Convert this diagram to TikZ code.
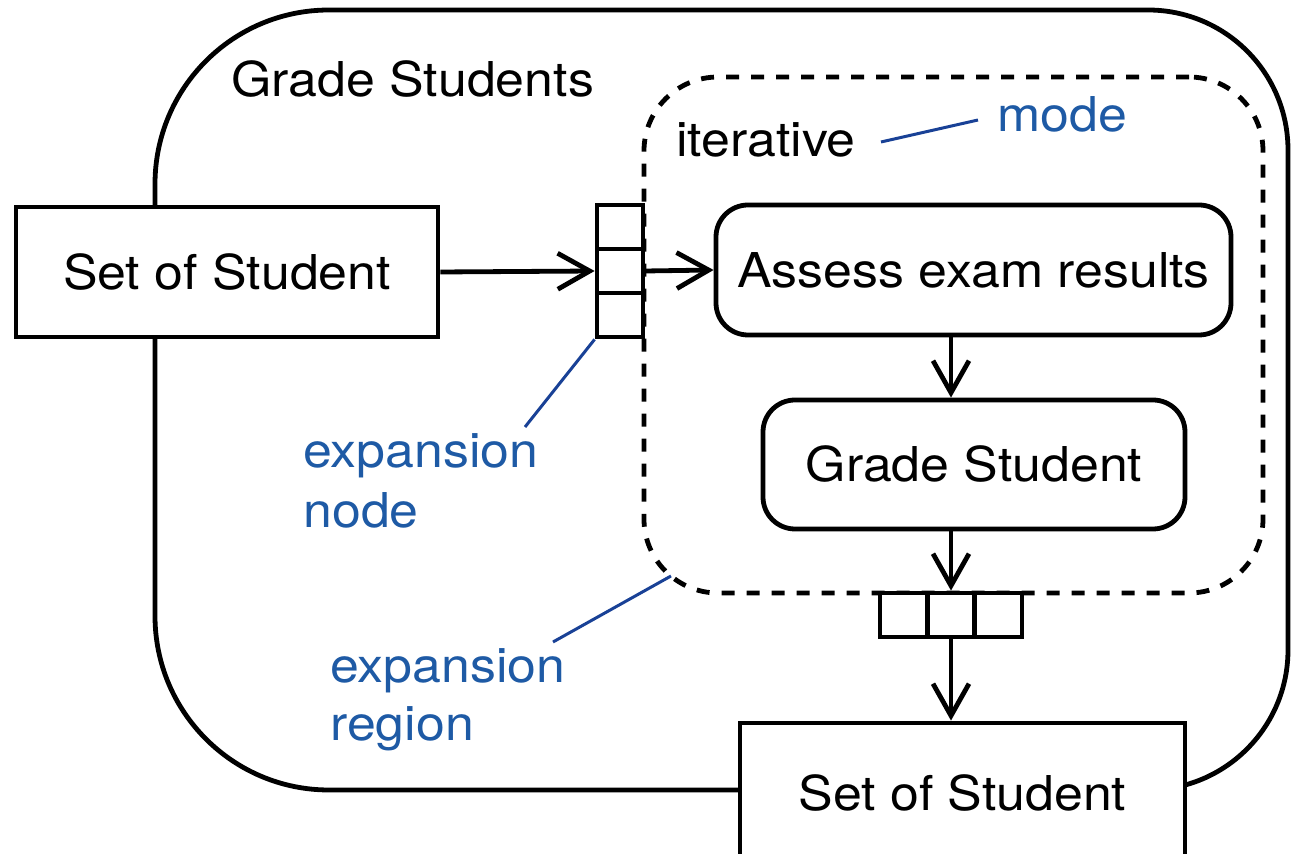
\documentclass[tikz,border=0pt]{standalone}
\usepackage{fontspec}
\setmainfont{TeX Gyre Heros}[FakeStretch=1.08]
\usetikzlibrary{arrows.meta}
\definecolor{notecol}{RGB}{30,90,165}
\definecolor{notelin}{RGB}{25,65,150}
\begin{document}
\begin{tikzpicture}[x=0.5pt,y=-0.5pt,
  every node/.style={font=\fontsize{24}{28}\selectfont, inner sep=0pt},
  objbox/.style={draw, line width=2.4pt, fill=white, rectangle},
  actbox/.style={draw, line width=2.4pt, fill=white, rounded corners=16pt},
  pincell/.style={draw, line width=2.4pt, fill=white},
  flow/.style={line width=2.4pt, -{Straight Barb[length=16pt,width=18pt,line width=2.4pt]}},
  note/.style={text=notecol},
  noteline/.style={draw=notelin, line width=1.5pt},
  regionline/.style={line width=2.4pt, dash pattern=on 6.5pt off 6pt},
]
\useasboundingbox (0,0) rectangle (1292,854);
\clip (0,0) rectangle (1292,854);

% activity frame
\draw[line width=2.4pt] (700,10) [rounded corners=70pt] -- (1288,10) -- (1288,790) -- (700,790)
  [rounded corners=87pt] -- (155,790) -- (155,10) -- (700,10);

% expansion region
\node[draw, regionline, rounded corners=37pt, minimum width=309.5pt, minimum height=258pt]
  (region) at (953.5,335) {};

% object nodes
\node[objbox, minimum width=211pt, minimum height=65pt] (in) at (227,272) {Set of Student};
\node[objbox, minimum width=222.5pt, minimum height=70.5pt] (out) at (962.5,793.5) {Set of Student};

% actions
\node[actbox, minimum width=257.5pt, minimum height=65pt] (assess) at (973.5,270) {Assess exam results};
\node[actbox, minimum width=211pt, minimum height=64.5pt] (grade) at (974,464.5) {Grade Student};

% input expansion node (vertical)
\node[pincell, minimum width=23pt, minimum height=22pt] (e1a) at (620,227) {};
\node[pincell, minimum width=23pt, minimum height=22pt] (e1b) at (620,271) {};
\node[pincell, minimum width=23pt, minimum height=22pt] (e1c) at (620,315) {};

% output expansion node (horizontal)
\node[pincell, minimum width=23.5pt, minimum height=22pt] (e2a) at (903.5,615) {};
\node[pincell, minimum width=23.5pt, minimum height=22pt] (e2b) at (951,615) {};
\node[pincell, minimum width=23.5pt, minimum height=22pt] (e2c) at (998.5,615) {};

% flows
\draw[flow] (in.east) -- (e1b.west);
\draw[flow] (e1b.east) -- (assess.west);
\draw[flow] (assess.south -| e2b) -- (grade.north -| e2b);
\draw[flow] (grade.south -| e2b) -- (e2b.north);
\draw[flow] (e2b.south) -- (e2b.south |- out.north);

% labels
\node[anchor=base west] (title) at (231,97) {Grade Students};
\node[anchor=base west] (modekw) at (676,157) {iterative};
\node[anchor=base west, note] (modelbl) at (997,132) {mode};
\node[anchor=base west, note] (enodeA) at (303,468) {expansion};
\node[anchor=base west, note] (enodeB) at (303,528) {node};
\node[anchor=base west, note] (eregA) at (330,683) {expansion};
\node[anchor=base west, note] (eregB) at (330,741) {region};

% annotation leaders
\coordinate (modeA) at (881,142);
\coordinate (modeB) at (978,120);
\coordinate (enodeEnd) at (525,427);
\coordinate (regCorner) at (671,576);
\coordinate (eregEnd) at (553,642);
\draw[noteline] (modeA) -- (modeB);
\draw[noteline] (e1c.south west) -- (enodeEnd);
\draw[noteline] (regCorner) -- (eregEnd);
\end{tikzpicture}
\end{document}
